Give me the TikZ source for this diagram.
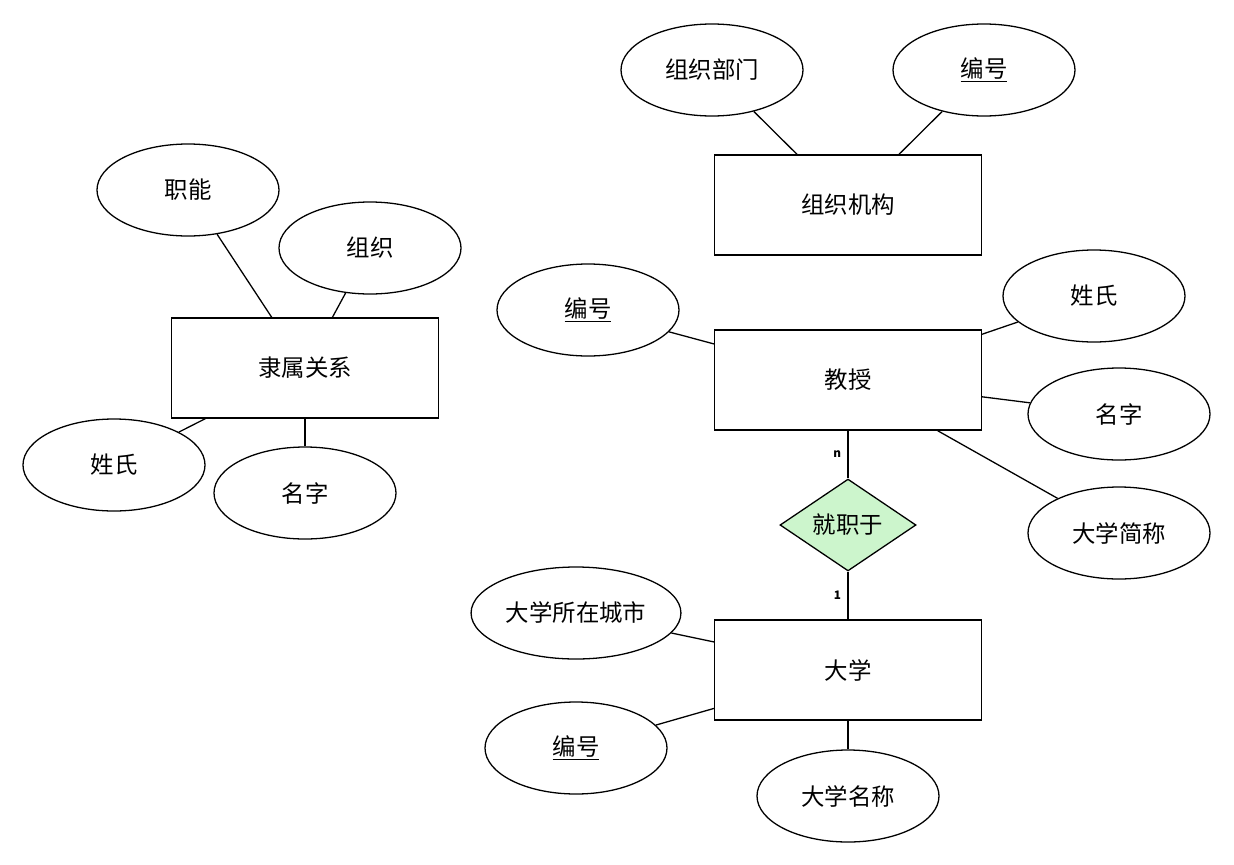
\documentclass[tikz,border=0pt]{standalone}
\usepackage{fontspec}
\setmainfont{Noto Sans CJK SC}
\usetikzlibrary{shapes.geometric}
\definecolor{relgreen}{rgb}{0.8, 0.96, 0.8}
\tikzset{
  entity/.style = {shape=rectangle, draw, line width=1.1pt, fill=white,
    minimum width=8.0cm, minimum height=3.0cm},
  attr/.style = {shape=ellipse, draw, line width=1.1pt, fill=white,
    minimum width=5.46cm, minimum height=2.76cm},
  rel/.style = {shape=diamond, draw, line width=1.1pt, fill=relgreen,
    minimum width=4.08cm, minimum height=2.52cm, inner sep=0pt},
  card/.style = {font=\bfseries},
  link/.style = {line width=1.1pt}
}
\begin{document}
\begin{tikzpicture}[x=0.03cm, y=-0.03cm, font=\fontsize{20}{24}\selectfont]
\useasboundingbox (0,0) rectangle (1234,864);
% organisation
\node[entity] (org) at (848,205) {组织机构};
\node[attr] (orgdept) at (712,70) {组织部门};
\node[attr] (orgid) at (984,70) {\underline{编号}};
% affiliation
\node[entity] (aff) at (305,368) {隶属关系};
\node[attr] (afffunc) at (188,190) {职能};
\node[attr] (afforg) at (370,248) {组织};
\node[attr] (affsur) at (114,465) {姓氏};
\node[attr] (affname) at (305,493) {名字};
% professor
\node[entity] (prof) at (848,380) {教授};
\node[attr] (profid) at (588,310) {\underline{编号}};
\node[attr] (profsur) at (1094,296) {姓氏};
\node[attr] (profname) at (1119,414) {名字};
\node[attr] (profuni) at (1119,533) {大学简称};
% employment
\node[rel] (work) at (848,525) {就职于};
% university
\node[entity] (uni) at (848,670) {大学};
\node[attr] (unicity) at (576,613) {大学所在城市};
\node[attr] (uniid) at (576,748) {\underline{编号}};
\node[attr] (uniname) at (848,796) {大学名称};
% connectors
\begin{scope}[on background layer/.style={}]
\draw[link] (orgdept) -- (org);
\draw[link] (orgid) -- (org);
\draw[link] (afffunc) -- (aff);
\draw[link] (afforg) -- (aff);
\draw[link] (affsur) -- (aff);
\draw[link] (affname) -- (aff);
\draw[link] (profid) -- (prof);
\draw[link] (profsur) -- (prof);
\draw[link] (profname) -- (prof);
\draw[link] (profuni) -- (prof);
\draw[link] (prof) -- node[card, left=2pt, pos=0.5] {n} (work);
\draw[link] (work) -- node[card, left=2pt, pos=0.5] {1} (uni);
\draw[link] (unicity) -- (uni);
\draw[link] (uniid) -- (uni);
\draw[link] (uniname) -- (uni);
\end{scope}
\end{tikzpicture}
\end{document}
